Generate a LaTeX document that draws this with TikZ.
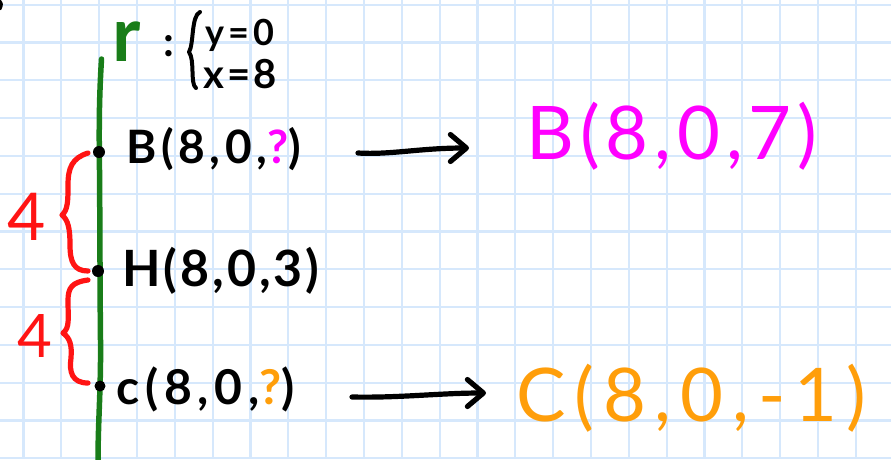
\documentclass[tikz,border=0pt]{standalone}
\usepackage{fontspec}
\setmainfont{Lato}
\newfontfamily\hand{Lato}
\usetikzlibrary{arrows.meta}
\definecolor{gridblue}{RGB}{214,232,252}
\definecolor{hgreen}{RGB}{25,125,25}
\definecolor{hred}{RGB}{255,20,20}
\definecolor{hmag}{RGB}{255,0,255}
\definecolor{horange}{RGB}{255,158,10}
\begin{document}
\begin{tikzpicture}[x=1pt,y=-1pt,
  gridline/.style={draw=gridblue,line width=2.2pt},
  hw/.style={inner sep=0pt,anchor=base west},
  stroke/.style={line width=5.2pt,line cap=round,line join=round},
  arr/.style={stroke,-{Straight Barb[length=16pt,width=27pt,line cap=round,line join=round]}},
  dot/.style={fill=black}
]
\useasboundingbox (0,0) rectangle (891,459);
\fill[white] (0,0) rectangle (891,459);
\foreach \k in {0,...,22} \draw[gridline] ({23.5+37.83*\k},0) -- ({23.5+37.83*\k},459);
\foreach \k in {0,...,12} \draw[gridline] (0,{4.7+37.8*\k}) -- (891,{4.7+37.8*\k});

% tiny mark top-left
\draw[stroke,line width=3pt] (-1,0) .. controls (2,4) .. (0,9);

% green line r
\draw[stroke,hgreen,line width=5.5pt] (101.5,59) .. controls (99,100) and (99,130) .. (99.5,170)
  .. controls (100,230) and (100,300) .. (100.5,340) .. controls (101,390) and (98,420) .. (98,462);
\node[hw,text=hgreen,font=\hand\bfseries\fontsize{76}{76}\selectfont] (r) at (112,61) {r};

% system
\node[hw,font=\hand\bfseries\fontsize{42}{42}\selectfont] (colon) at (163,56) {:};
\draw[stroke,line width=4pt] (200,12) .. controls (191,16) and (194,44) .. (189,52)
  .. controls (195,60) and (190,84) .. (196,88);
\node[hw,font=\hand\bfseries\fontsize{36}{36}\selectfont\addfontfeatures{LetterSpace=12}] (sy) at (205,45) {y=0};
\node[hw,font=\hand\bfseries\fontsize{40}{40}\selectfont\addfontfeatures{LetterSpace=8}] (sx) at (203,88) {x=8};

% red braces and 4s
\draw[stroke,hred] (88,153) .. controls (72,158) and (68,168) .. (68,185)
  .. controls (68,200) and (68,210) .. (62,215)
  .. controls (68,220) and (70,228) .. (70,245)
  .. controls (70,262) and (74,271) .. (88,271);
\draw[stroke,hred] (88,280) .. controls (72,282) and (68,288) .. (68,300)
  .. controls (68,318) and (70,328) .. (63,333)
  .. controls (70,338) and (72,345) .. (71,358)
  .. controls (69,372) and (72,383) .. (88,383);
\node[hw,text=hred,font=\hand\fontsize{66}{66}\selectfont] (four1) at (7,240) {4};
\node[hw,text=hred,font=\hand\fontsize{60}{60}\selectfont] (four2) at (17,357) {4};

% points
\fill[dot] (99,152) circle[radius=6pt];
\fill[dot] (98,271) circle[radius=6pt];
\fill[dot] (100,386) circle[radius=5.5pt];

\node[hw,font=\hand\bfseries\fontsize{46}{46}\selectfont\addfontfeatures{LetterSpace=10}] (Bq) at (126,163) {B(8,0,{\color{hmag}?})};
\node[hw,font=\hand\bfseries\fontsize{50}{50}\selectfont\addfontfeatures{LetterSpace=6}] (Hq) at (122,286) {H(8,0,3)};
\node[hw,font=\hand\bfseries\fontsize{48}{48}\selectfont\addfontfeatures{LetterSpace=12}] (Cq) at (116,404) {c(8,0,{\color{horange}?})};

\node[hw,text=hmag,font=\hand\fontsize{74}{74}\selectfont\addfontfeatures{LetterSpace=8}] (Bres) at (526,159) {B(8,0,7)};
\node[hw,text=horange,font=\hand\fontsize{74}{74}\selectfont\addfontfeatures{LetterSpace=12}] (Cres) at (516,421) {C(8,0,-1)};

% arrows
\coordinate (a1s) at (358,153);
\coordinate (a1e) at (469,148);
\coordinate (a2s) at (352,397);
\coordinate (a2e) at (486,393);
\draw[arr] (a1s) .. controls (390,155) and (420,148) .. (a1e);
\draw[arr] (a2s) .. controls (400,398) and (440,393) .. (a2e);
\end{tikzpicture}
\end{document}
